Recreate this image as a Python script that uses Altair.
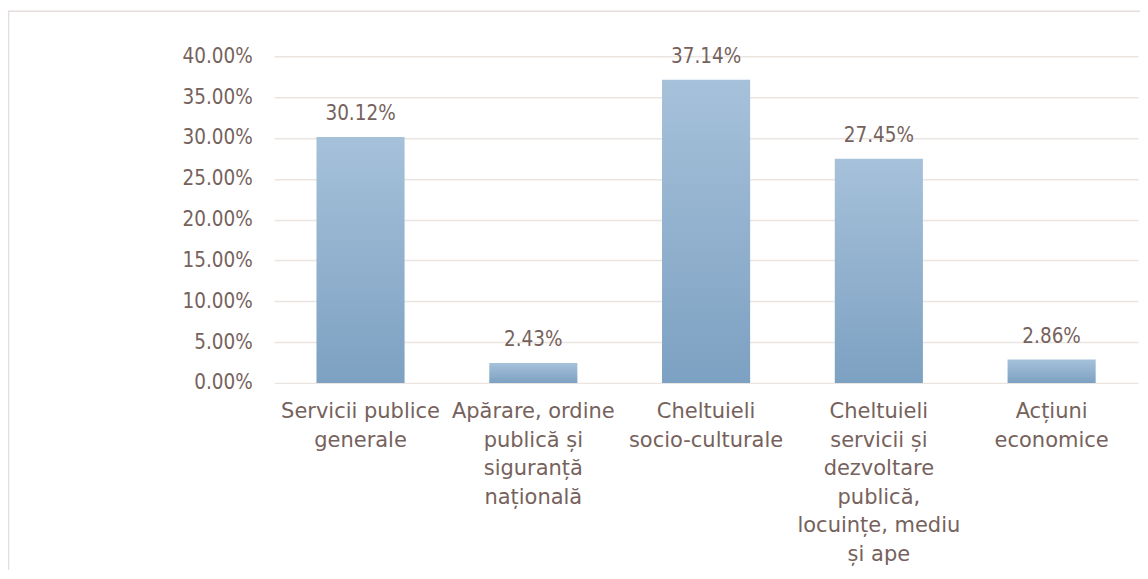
import altair as alt
import pandas as pd

categories = [
    "Servicii publice generale",
    "Apărare, ordine publică și siguranță națională",
    "Cheltuieli socio-culturale",
    "Cheltuieli servicii și dezvoltare publică, locuințe, mediu și ape",
    "Acțiuni economice",
]
label_lines = [
    ["Servicii publice", "generale"],
    ["Apărare, ordine", "publică și", "siguranță", "națională"],
    ["Cheltuieli", "socio-culturale"],
    ["Cheltuieli", "servicii și", "dezvoltare", "publică,", "locuințe, mediu", "și ape"],
    ["Acțiuni", "economice"],
]
shares = [0.3012, 0.0243, 0.3714, 0.2745, 0.0286]
y_ticks = [0.0, 0.05, 0.10, 0.15, 0.20, 0.25, 0.30, 0.35, 0.40]

TEXT = "#76625c"
FONT = "DejaVu Sans Condensed"
XFONT = "DejaVu Sans"

df = pd.DataFrame({
    "category": categories,
    "label": ["|".join(l) for l in label_lines],
    "share": shares,
})

x = alt.X(
    "label:N",
    sort=None,
    scale=alt.Scale(paddingInner=0.49, paddingOuter=0.245),
    axis=alt.Axis(
        title=None,
        labelExpr="split(datum.label, '|')",
        labelAngle=0,
        labelFontSize=21,
        labelLineHeight=28.5,
        labelPadding=18,
        labelBaseline="top",
        labelColor=TEXT,
        labelFont=XFONT,
        labelLimit=300,
        domain=False,
        ticks=False,
    ),
)
y = alt.Y(
    "share:Q",
    scale=alt.Scale(domain=[0, 0.4]),
    axis=alt.Axis(
        title=None,
        values=y_ticks,
        format=".2%",
        labelFontSize=20.5,
        labelColor=TEXT,
        labelFont=FONT,
        labelPadding=22,
        domain=False,
        ticks=False,
        grid=True,
        gridColor="#ebe5e2",
        gridWidth=1.5,
    ),
)

border = alt.Chart(pd.DataFrame({"a": [0]})).mark_rect(
    fillOpacity=0, stroke="#e4dedb", strokeWidth=1.5
).encode(
    x=alt.value(-266), x2=alt.value(890),
    y=alt.value(-45), y2=alt.value(560),
)

bars = alt.Chart(df).mark_bar(
    color=alt.Gradient(
        gradient="linear",
        stops=[alt.GradientStop(color="#a6c1da", offset=0),
               alt.GradientStop(color="#7da1c2", offset=1)],
        x1=0, x2=0, y1=0, y2=1,
    )
).encode(x=x, y=y)

text = alt.Chart(df).mark_text(
    dy=-23, baseline="middle", fontSize=20.5, color=TEXT, font=FONT
).encode(
    x=alt.X("label:N", sort=None),
    y="share:Q",
    text=alt.Text("share:Q", format=".2%"),
)

chart = alt.layer(border, bars, text).properties(
    width=865,
    height=327,
    padding={"left": 266.5, "top": 48, "right": 2, "bottom": 187},
    autosize=alt.AutoSizeParams(type="none"),
    background="white",
).configure_view(stroke=None)

chart.save("out.html", embed_options={"renderer": "svg", "actions": False})
